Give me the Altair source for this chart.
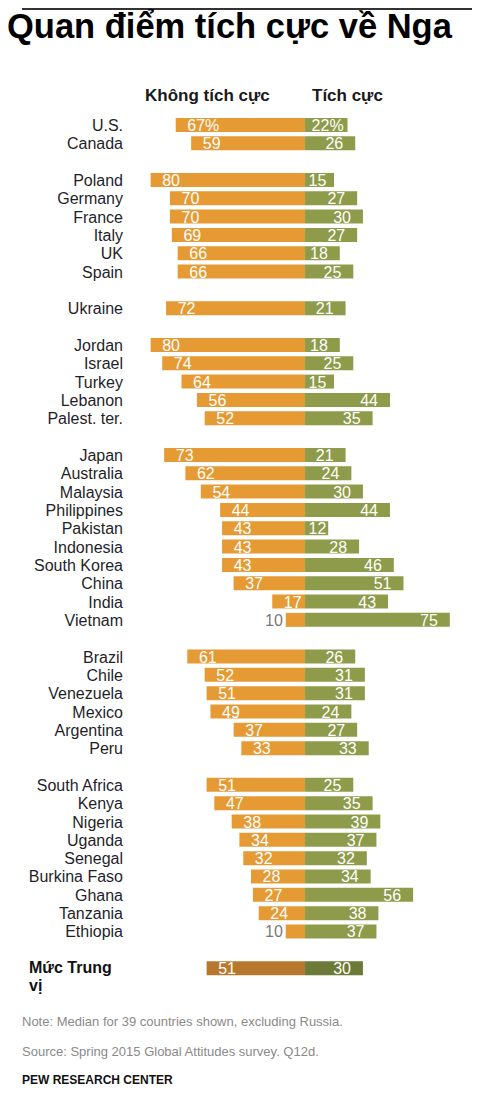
import altair as alt
import pandas as pd

title_text = "Quan điểm tích cực về Nga"
header_left = "Không tích cực"
header_right = "Tích cực"
median_lines = ["Mức Trung", "vị"]
note_text = "Note: Median for 39 countries shown, excluding Russia."
source_text = "Source: Spring 2015 Global Attitudes survey. Q12d."
org_text = "PEW RESEARCH CENTER"

countries = ["U.S.", "Canada",
             "Poland", "Germany", "France", "Italy", "UK", "Spain",
             "Ukraine",
             "Jordan", "Israel", "Turkey", "Lebanon", "Palest. ter.",
             "Japan", "Australia", "Malaysia", "Philippines", "Pakistan", "Indonesia",
             "South Korea", "China", "India", "Vietnam",
             "Brazil", "Chile", "Venezuela", "Mexico", "Argentina", "Peru",
             "South Africa", "Kenya", "Nigeria", "Uganda", "Senegal", "Burkina Faso",
             "Ghana", "Tanzania", "Ethiopia",
             "Median"]
group_ids = [0, 0,
             1, 1, 1, 1, 1, 1,
             2,
             3, 3, 3, 3, 3,
             4, 4, 4, 4, 4, 4, 4, 4, 4, 4,
             5, 5, 5, 5, 5, 5,
             6, 6, 6, 6, 6, 6, 6, 6, 6,
             7]
unfavorable = [67, 59,
               80, 70, 70, 69, 66, 66,
               72,
               80, 74, 64, 56, 52,
               73, 62, 54, 44, 43, 43, 43, 37, 17, 10,
               61, 52, 51, 49, 37, 33,
               51, 47, 38, 34, 32, 28, 27, 24, 10,
               51]
favorable = [22, 26,
             15, 27, 30, 27, 18, 25,
             21,
             18, 25, 15, 44, 35,
             21, 24, 30, 44, 12, 28, 46, 51, 43, 75,
             26, 31, 31, 24, 27, 33,
             25, 35, 39, 37, 32, 34, 56, 38, 37,
             30]

# row slots: one blank row between groups
slots = []
s = 0
prev = group_ids[0]
for g in group_ids:
    if g != prev:
        s += 1
        prev = g
    slots.append(s)
    s += 1

df = pd.DataFrame({
    "country": countries,
    "unfav": unfavorable,
    "fav": favorable,
    "slot": slots,
    "median": [c == "Median" for c in countries],
})
df["unfav_label"] = [f"{v}%" if i == 0 else str(v) for i, v in enumerate(unfavorable)]
df["fav_label"] = [f"{v}%" if i == 0 else str(v) for i, v in enumerate(favorable)]

ORANGE = "#E59A34"
GREEN = "#8D9B4A"
MED_ORANGE = "#B7782D"
MED_GREEN = "#6B7A36"
FONT = "Liberation Sans"

x_scale = alt.Scale(domain=[-153.9, 86.5], nice=False, zero=False)
y_scale = alt.Scale(domain=[-6.108, 52.757], nice=False, zero=False, reverse=True)
Y = alt.Y("slot:Q", scale=y_scale, axis=None)

base = alt.Chart(df)

left_bar = base.transform_calculate(x0="-datum.unfav").mark_bar(size=14, orient="horizontal").encode(
    x=alt.X("x0:Q", scale=x_scale, axis=None),
    x2=alt.datum(0),
    y=Y,
    color=alt.condition("datum.median", alt.value(MED_ORANGE), alt.value(ORANGE)),
)
right_bar = base.mark_bar(size=14, orient="horizontal").encode(
    x=alt.X("fav:Q", scale=x_scale, axis=None),
    x2=alt.datum(0),
    y=Y,
    color=alt.condition("datum.median", alt.value(MED_GREEN), alt.value(GREEN)),
)

left_in = base.transform_filter("datum.unfav >= 15").transform_calculate(
    lt="-datum.unfav + 6").mark_text(
    align="left", baseline="middle", font=FONT, fontSize=16, color="white", dy=1).encode(
    x=alt.X("lt:Q", scale=x_scale, axis=None), y=Y, text="unfav_label:N")

left_out = base.transform_filter("datum.unfav < 15").transform_calculate(
    lt="-datum.unfav - 1.5").mark_text(
    align="right", baseline="middle", font=FONT, fontSize=16, color="#7a7a7a", dy=1).encode(
    x=alt.X("lt:Q", scale=x_scale, axis=None), y=Y, text="unfav_label:N")

right_txt = base.transform_calculate(
    rt="indexof(datum.fav_label, '%') >= 0 ? datum.fav - 2 : max(datum.fav - 6.2, 11)").mark_text(
    align="right", baseline="middle", font=FONT, fontSize=16, color="white", dy=1).encode(
    x=alt.X("rt:Q", scale=x_scale, axis=None), y=Y, text="fav_label:N")

country_txt = base.transform_filter("!datum.median").mark_text(
    align="right", baseline="middle", font=FONT, fontSize=16, color="#1f1f2a", dy=1).encode(
    x=alt.value(115), y=Y, text="country:N")

med1 = base.transform_filter("datum.median").transform_calculate(lab=f"'{median_lines[0]}'").mark_text(
    align="left", baseline="middle", font=FONT, fontSize=16, fontWeight="bold", color="#111", dy=0).encode(
    x=alt.value(21), y=Y, text="lab:N")
med2 = base.transform_filter("datum.median").transform_calculate(lab=f"'{median_lines[1]}'").mark_text(
    align="left", baseline="middle", font=FONT, fontSize=16, fontWeight="bold", color="#111", dy=18).encode(
    x=alt.value(21), y=Y, text="lab:N")


def one(text):
    return alt.Chart(pd.DataFrame({"t": [text]}))


top_rule = one("").mark_rule(color="#333", strokeWidth=2).encode(
    x=alt.value(14), x2=alt.value(464), y=alt.value(1))
title = one(title_text).mark_text(
    align="left", baseline="alphabetic", font=FONT, fontSize=34.5, fontWeight="bold", color="#000").encode(
    x=alt.value(-1), y=alt.value(30), text="t:N")
h_left = one(header_left).mark_text(
    align="left", baseline="alphabetic", font=FONT, fontSize=17, fontWeight="bold", color="#1a1a1a").encode(
    x=alt.value(137), y=alt.value(93), text="t:N")
h_right = one(header_right).mark_text(
    align="left", baseline="alphabetic", font=FONT, fontSize=17, fontWeight="bold", color="#1a1a1a").encode(
    x=alt.value(304), y=alt.value(93), text="t:N")
note = one(note_text).mark_text(
    align="left", baseline="middle", font=FONT, fontSize=13, color="#8a8a8a").encode(
    x=alt.value(14), y=alt.value(1014), text="t:N")
source = one(source_text).mark_text(
    align="left", baseline="middle", font=FONT, fontSize=13, color="#8a8a8a").encode(
    x=alt.value(14), y=alt.value(1044), text="t:N")
org = one(org_text).mark_text(
    align="left", baseline="middle", font=FONT, fontSize=12, fontWeight="bold", color="#111").encode(
    x=alt.value(14), y=alt.value(1072), text="t:N")

chart = alt.layer(
    left_bar, right_bar, left_in, left_out, right_txt, country_txt, med1, med2,
    top_rule, title, h_left, h_right, note, source, org,
).properties(
    width=464, height=1089, padding=0,
    autosize=alt.AutoSizeParams(type="none"),
).configure_view(stroke=None)

chart.save("out.html", embed_options={"renderer": "svg", "actions": False})
